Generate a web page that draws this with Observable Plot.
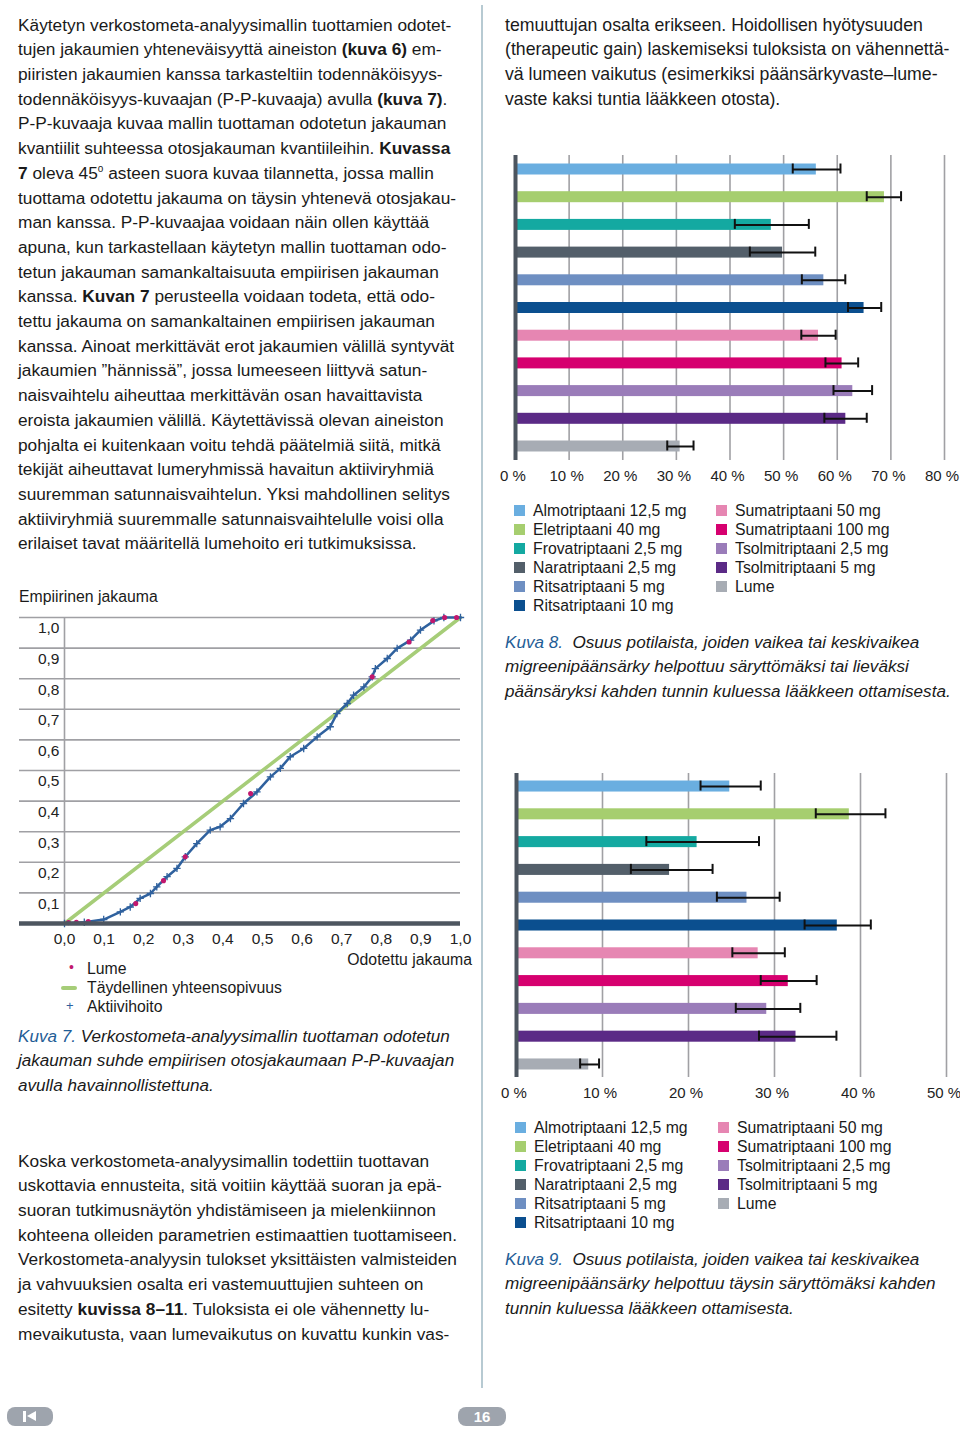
<!DOCTYPE html>
<html><head><meta charset="utf-8">
<script src="https://cdn.jsdelivr.net/npm/d3@7"></script>
<script src="https://cdn.jsdelivr.net/npm/@observablehq/plot@0.6"></script>
<style>
body{margin:0;width:960px;height:1430px;position:relative;background:#fff;font-family:"Liberation Sans",Arial,sans-serif;color:#1a1a1a;overflow:hidden}
.abs{position:absolute}
.txt{font-size:17.3px;line-height:24.7px;white-space:nowrap}
.txtR{font-size:17.7px;line-height:24.7px;white-space:nowrap}
.cap{font-size:17.1px;line-height:24.7px;white-space:nowrap;font-style:italic}
.cap .k{color:#1f5d96}
.leg{font-size:15.8px;line-height:19px;white-space:nowrap}
.leg div{position:relative;padding-left:19px}
.leg span.sw{position:absolute;left:0;top:4px;width:11px;height:11px}
.lab{font-size:15.8px;white-space:nowrap}
svg{overflow:visible}
</style></head>
<body>
<div id="root"></div>
<script>
// ---------- data ----------
const drugs = ["Almotriptaani 12,5 mg","Eletriptaani 40 mg","Frovatriptaani 2,5 mg","Naratriptaani 2,5 mg","Ritsatriptaani 5 mg","Ritsatriptaani 10 mg","Sumatriptaani 50 mg","Sumatriptaani 100 mg","Tsolmitriptaani 2,5 mg","Tsolmitriptaani 5 mg","Lume"];
const drugColors = ["#6aaee0","#a6ce6f","#14a9a1","#535f6a","#6e8fc2","#0b4f8f","#e686b2","#d6006f","#9a7cb9","#5b2a86","#a7acb4"];
// Kuva 8: % response (two-hour relief)
const k8Value = [56.1, 68.8, 47.7, 49.8, 57.5, 65.0, 56.5, 60.9, 62.9, 61.6, 30.7];
const k8Low   = [51.7, 65.5, 40.9, 43.7, 53.4, 62.0, 53.3, 57.8, 59.3, 57.6, 28.3];
const k8High  = [60.6, 71.9, 54.7, 55.9, 61.5, 68.2, 59.7, 63.9, 66.5, 65.5, 33.2];
const k8Ticks = [0,10,20,30,40,50,60,70,80];
// Kuva 9: % pain free at two hours
const k9Value = [24.8, 38.7, 21.0, 17.8, 26.8, 37.3, 28.1, 31.6, 29.1, 32.5, 8.4];
const k9Low   = [21.4, 34.8, 15.1, 13.3, 23.3, 33.5, 25.1, 28.4, 25.5, 28.2, 7.4];
const k9High  = [28.4, 42.9, 28.2, 22.8, 30.6, 41.2, 31.2, 34.9, 33.0, 37.2, 9.6];
const k9Ticks = [0,10,20,30,40,50];
// Kuva 7: P-P plot
const ppTicks = [0,0.1,0.2,0.3,0.4,0.5,0.6,0.7,0.8,0.9,1.0];
const activeX = [0,0.05,0.099,0.141,0.166,0.191,0.217,0.233,0.259,0.284,0.305,0.334,0.368,0.393,0.419,0.452,0.486,0.520,0.545,0.570,0.604,0.638,0.671,0.688,0.714,0.730,0.756,0.777,0.785,0.815,0.840,0.874,0.899,0.933,0.958,1.0];
const activeY = [0,0.004,0.013,0.038,0.054,0.082,0.098,0.120,0.153,0.180,0.218,0.261,0.305,0.316,0.343,0.392,0.430,0.479,0.507,0.545,0.572,0.610,0.643,0.686,0.719,0.746,0.773,0.806,0.833,0.866,0.899,0.926,0.959,0.989,1.0,1.0];
const lumeX = [0.01,0.03,0.06,0.18,0.25,0.305,0.47,0.777,0.87,0.93,0.96,0.99];
const lumeY = [0.003,0.004,0.006,0.065,0.14,0.218,0.425,0.806,0.92,0.99,1.0,1.0];
const perfectX = [0,1];
const perfectY = [0,1];

// ---------- text ----------
const leftText = [
"Käytetyn verkostometa-analyysimallin tuottamien odotet-",
"tujen jakaumien yhteneväisyyttä aineiston <b>(kuva 6)</b> em-",
"piiristen jakaumien kanssa tarkasteltiin todennäköisyys-",
"todennäköisyys-kuvaajan (P-P-kuvaaja) avulla <b>(kuva 7)</b>.",
"P-P-kuvaaja kuvaa mallin tuottaman odotetun jakauman",
"kvantiilit suhteessa otosjakauman kvantiileihin. <b>Kuvassa</b>",
"<b>7</b> oleva 45<sup style='font-size:10px;vertical-align:7px;line-height:0'>o</sup> asteen suora kuvaa tilannetta, jossa mallin",
"tuottama odotettu jakauma on täysin yhtenevä otosjakau-",
"man kanssa. P-P-kuvaajaa voidaan näin ollen käyttää",
"apuna, kun tarkastellaan käytetyn mallin tuottaman odo-",
"tetun jakauman samankaltaisuuta empiirisen jakauman",
"kanssa. <b>Kuvan 7</b> perusteella voidaan todeta, että odo-",
"tettu jakauma on samankaltainen empiirisen jakauman",
"kanssa. Ainoat merkittävät erot jakaumien välillä syntyvät",
"jakaumien ”hännissä”, jossa lumeeseen liittyvä satun-",
"naisvaihtelu aiheuttaa merkittävän osan havaittavista",
"eroista jakaumien välillä. Käytettävissä olevan aineiston",
"pohjalta ei kuitenkaan voitu tehdä päätelmiä siitä, mitkä",
"tekijät aiheuttavat lumeryhmissä havaitun aktiiviryhmiä",
"suuremman satunnaisvaihtelun. Yksi mahdollinen selitys",
"aktiiviryhmiä suuremmalle satunnaisvaihtelulle voisi olla",
"erilaiset tavat määritellä lumehoito eri tutkimuksissa."];
const bottomText = [
"Koska verkostometa-analyysimallin todettiin tuottavan",
"uskottavia ennusteita, sitä voitiin käyttää suoran ja epä-",
"suoran tutkimusnäytön yhdistämiseen ja mielenkiinnon",
"kohteena olleiden parametrien estimaattien tuottamiseen.",
"Verkostometa-analyysin tulokset yksittäisten valmisteiden",
"ja vahvuuksien osalta eri vastemuuttujien suhteen on",
"esitetty <b>kuvissa 8–11</b>. Tuloksista ei ole vähennetty lu-",
"mevaikutusta, vaan lumevaikutus on kuvattu kunkin vas-"];
const rightText = [
"temuuttujan osalta erikseen. Hoidollisen hyötysuuden",
"(therapeutic gain) laskemiseksi tuloksista on vähennettä-",
"vä lumeen vaikutus (esimerkiksi päänsärkyvaste–lume-",
"vaste kaksi tuntia lääkkeen otosta)."];
const cap7 = ["<span class='k'>Kuva 7.</span> Verkostometa-analyysimallin tuottaman odotetun","jakauman suhde empiirisen otosjakaumaan P-P-kuvaajan","avulla havainnollistettuna."];
const cap8 = ["<span class='k'>Kuva 8.</span>&nbsp; Osuus potilaista, joiden vaikea tai keskivaikea","migreenipäänsärky helpottuu säryttömäksi tai lieväksi","päänsäryksi kahden tunnin kuluessa lääkkeen ottamisesta."];
const cap9 = ["<span class='k'>Kuva 9.</span>&nbsp; Osuus potilaista, joiden vaikea tai keskivaikea","migreenipäänsärky helpottuu täysin säryttömäksi kahden","tunnin kuluessa lääkkeen ottamisesta."];

const root = document.getElementById("root");
function block(lines, cls, left, top){
  const d = document.createElement("div");
  d.className = "abs " + cls;
  d.style.left = left + "px"; d.style.top = top + "px";
  d.innerHTML = lines.join("<br>");
  root.appendChild(d);
  return d;
}
block(leftText, "txt", 18, 12.6);
block(bottomText, "txt", 18, 1148.6);
block(rightText, "txtR", 505, 12.6);
block(cap7, "cap", 18, 1024.6);
block(cap8, "cap", 505, 630.6);
block(cap9, "cap", 505, 1247.6);

// divider
const dv = document.createElement("div");
dv.className = "abs";
Object.assign(dv.style,{left:"481px",top:"5px",width:"2px",height:"1383px",background:"#b7cad2"});
root.appendChild(dv);

function legend(left1, left2, top){
  const c1 = document.createElement("div"); c1.className="abs leg"; c1.style.left=left1+"px"; c1.style.top=top+"px";
  const c2 = document.createElement("div"); c2.className="abs leg"; c2.style.left=left2+"px"; c2.style.top=top+"px";
  drugs.forEach((d,i)=>{
    const r = document.createElement("div");
    r.innerHTML = `<span class="sw" style="background:${drugColors[i]}"></span>${d}`;
    (i<6?c1:c2).appendChild(r);
  });
  root.appendChild(c1); root.appendChild(c2);
}
legend(514, 716, 500.5);
legend(515, 718, 1117.5);

const font = "'Liberation Sans',Arial,sans-serif";

function barChart(values, lows, highs, ticks, left, top, height, mLeft, mRight, pOuter){
  const rows = drugs.map((d,i)=>({drug:d, v:values[i], lo:lows[i], hi:highs[i]}));
  const chart = Plot.plot({
    width:460, height, marginLeft:mLeft, marginRight:mRight, marginTop:5, marginBottom:30,
    style:{fontFamily:font, fontSize:"15px", color:"#222", background:"transparent", overflow:"visible"},
    x:{domain:[ticks[0], ticks[ticks.length-1]]},
    y:{domain:drugs, paddingInner:0.603, paddingOuter:pOuter, round:false, axis:null},
    color:{domain:drugs, range:drugColors},
    marks:[
      Plot.ruleX(ticks.slice(1), {stroke:"#a0a0a4", strokeWidth:1.6}),
      Plot.barX(rows, {y:"drug", x:"v", fill:"drug"}),
      Plot.ruleY(rows, {y:"drug", x1:"lo", x2:"hi", stroke:"#111", strokeWidth:2}),
      Plot.tickX(rows, {x:"lo", y:"drug", stroke:"#111", strokeWidth:2, insetTop:0, insetBottom:1}),
      Plot.tickX(rows, {x:"hi", y:"drug", stroke:"#111", strokeWidth:2, insetTop:0, insetBottom:1}),
      Plot.ruleX([0], {stroke:"#4c555f", strokeWidth:4}),
      Plot.axisX({ticks, tickFormat:d=>d+" %", tickSize:0, tickPadding:10, fontSize:15, dx:-2.5, label:null})
    ]
  });
  chart.style.position="absolute"; chart.style.left=left+"px"; chart.style.top=top+"px";
  root.appendChild(chart);
}
barChart(k8Value, k8Low, k8High, k8Ticks, 500, 150, 340, 15, 16, 0.307);
barChart(k9Value, k9Low, k9High, k9Ticks, 500, 768, 339, 16, 14, 0.27);

// P-P plot
const fmt = d=>d3.format(".1f")(d).replace(".",",");
const active = activeX.map((x,i)=>({x, y:activeY[i]}));
const lume = lumeX.map((x,i)=>({x, y:lumeY[i]}));
const perfect = perfectX.map((x,i)=>({x, y:perfectY[i]}));
const pp = Plot.plot({
  width:480, height:363, marginLeft:64, marginRight:20, marginTop:27, marginBottom:30,
  style:{fontFamily:font, fontSize:"15px", color:"#222", background:"transparent", overflow:"visible"},
  x:{domain:[0,1]}, y:{domain:[0,1]},
  marks:[
    Plot.ruleY(ppTicks.slice(1), {stroke:"#a0a0a4", strokeWidth:1.6, insetLeft:-45}),
    Plot.ruleX([0], {stroke:"#a0a0a4", strokeWidth:1.6}),
    Plot.line(perfect, {x:"x", y:"y", stroke:"#a6cd78", strokeWidth:3.5}),
    Plot.line(active, {x:"x", y:"y", stroke:"#2f619e", strokeWidth:2.5, curve:"linear"}),
    Plot.dot(active, {x:"x", y:"y", symbol:"plus", r:2.5, stroke:"#2f619e", strokeWidth:1.3}),
    Plot.dot(lume, {x:"x", y:"y", r:1.8, fill:"#c2186e", stroke:"#c2186e"}),
    Plot.ruleY([0], {stroke:"#4e5660", strokeWidth:4.5, insetLeft:-45}),
    Plot.axisY(ppTicks.slice(1), {tickFormat:fmt, tickSize:0, tickPadding:5, dy:11, fontSize:15.5, label:null}),
    Plot.axisX(ppTicks, {tickFormat:fmt, tickSize:0, tickPadding:9, fontSize:15.5, label:null})
  ]
});
pp.style.position="absolute"; pp.style.left="0px"; pp.style.top="590px";
root.appendChild(pp);

// P-P labels and legend
function lab(html, left, top, extra){
  const d = document.createElement("div"); d.className="abs lab"; d.style.left=left+"px"; d.style.top=top+"px";
  d.innerHTML = html; if(extra) Object.assign(d.style, extra); root.appendChild(d); return d;
}
lab("Empiirinen jakauma", 19, 588);
lab("Odotettu jakauma", 0, 951, {left:"auto", right:(960-472)+"px"});
lab("<span style='position:absolute;left:-18px;top:-1px;color:#c2186e;font-size:14px'>•</span>Lume", 87, 960);
lab("<span style='position:absolute;left:-26px;top:7px;width:16px;height:4px;border-radius:2px;background:#a6cd78'></span>Täydellinen yhteensopivuus", 87, 979);
lab("<span style='position:absolute;left:-21px;top:0px;color:#2f619e;font-size:13px'>+</span>Aktiivihoito", 87, 998);

// nav buttons
const nav1 = document.createElement("div"); nav1.className="abs";
Object.assign(nav1.style,{left:"7px",top:"1407px",width:"46px",height:"19px",borderRadius:"8px",background:"#9ea4ad"});
nav1.innerHTML = "<div style='position:absolute;left:16px;top:4px;width:3px;height:11px;background:#fff'></div><div style='position:absolute;left:20px;top:4px;width:0;height:0;border-top:5.5px solid transparent;border-bottom:5.5px solid transparent;border-right:9px solid #fff'></div>";
root.appendChild(nav1);
const nav2 = document.createElement("div"); nav2.className="abs";
Object.assign(nav2.style,{left:"458px",top:"1407px",width:"48px",height:"19px",borderRadius:"8px",background:"#9ea4ad",color:"#fff",font:"bold 15px 'Liberation Sans Narrow','Liberation Sans',Arial,sans-serif",textAlign:"center",lineHeight:"19px"});
nav2.textContent = "16";
root.appendChild(nav2);
</script>
</body></html>
